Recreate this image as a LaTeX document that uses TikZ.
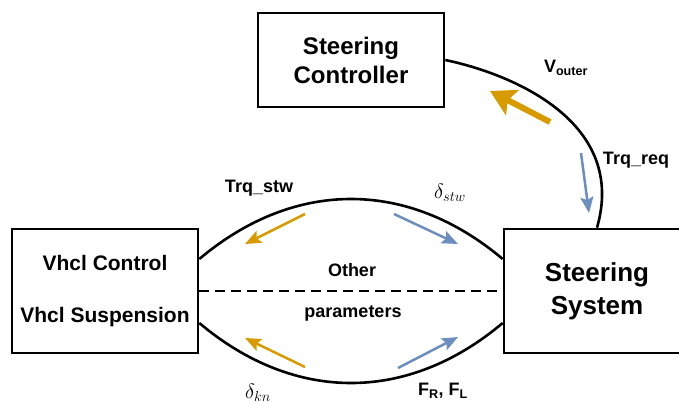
\documentclass[tikz,border=0pt]{standalone}
\usepackage{fontspec}
\setmainfont{Liberation Sans}
\usetikzlibrary{positioning,arrows.meta}
\definecolor{trqorange}{HTML}{D79B00}
\definecolor{sigblue}{HTML}{6C8EBF}

\begin{document}
\begin{tikzpicture}[x=1pt,y=-1pt,line width=2.6pt]
	\tikzstyle{block}=[draw,line width=2.6pt,minimum width=186pt,align=center]
	\tikzstyle{lbl}=[font=\bfseries\fontsize{18}{22}\selectfont,inner sep=0pt]
	\tikzstyle{sym}=[font=\fontsize{20}{24}\selectfont,inner sep=0pt]
	\tikzstyle{thinarrow}=[line width=2.5pt,-{Stealth[length=16pt,width=13pt,inset=3pt]}]
	\tikzstyle{bigarrow}=[line width=6pt,-{Stealth[length=25pt,width=28pt,inset=5pt]}]
	\useasboundingbox (0,0) rectangle (679,401);
	\clip (0,0) rectangle (679,401);
		% blocks
		\node[block,minimum height=94pt,font=\bfseries\fontsize{24}{29}\selectfont] (ctrl) at (351,60) {Steering\\Controller};
		\node[block,minimum height=124pt,font=\bfseries\fontsize{21}{52}\selectfont] (vhcl) at (105,291) {Vhcl Control\\Vhcl Suspension};
		\node[block,minimum height=124pt,font=\bfseries\fontsize{26}{33}\selectfont] (sys) at (597,291) {Steering\\System};
		% links between the blocks
		\draw ([yshift=32pt]vhcl.east) .. controls +(95,-80) and +(-95,-80) .. ([yshift=32pt]sys.west);
		\draw ([yshift=-32pt]vhcl.east) .. controls +(95,80) and +(-95,80) .. ([yshift=-32pt]sys.west);
		\draw[dash pattern=on 10pt off 6pt] (vhcl.east) -- (sys.west);
		\draw (ctrl.east) .. controls +(71,15) and +(30,-104) .. (sys.north);
		% signal labels
		\node[lbl] (trqstw) at (259,188) {Trq\_stw};
		\node[sym] (dstw) at (450,193) {$\delta_{stw}$};
		\node[lbl] (other) at (352,270) {Other};
		\node[lbl] (param) at (353,313) {parameters};
		\node[sym] (dkn) at (258,393) {$\delta_{kn}$};
		\node[lbl] (forces) at (443,391) {F\textsubscript{R}, F\textsubscript{L}};
		\node[lbl] (vout) at (566,68) {V\textsubscript{outer}};
		\node[lbl] (trqreq) at (636,160) {Trq\_req};
		% flow directions
		\coordinate (a1) at (305,214); \coordinate (a2) at (245,244);
		\coordinate (b1) at (394,214); \coordinate (b2) at (458,244);
		\coordinate (c1) at (305,367); \coordinate (c2) at (245,338);
		\coordinate (d1) at (398,368); \coordinate (d2) at (458,337);
		\coordinate (e1) at (550,122); \coordinate (e2) at (490,91);
		\coordinate (f1) at (581,153); \coordinate (f2) at (589,213);
			\draw[thinarrow,trqorange] (a1) -- (a2);
			\draw[thinarrow,sigblue] (b1) -- (b2);
			\draw[thinarrow,trqorange] (c1) -- (c2);
			\draw[thinarrow,sigblue] (d1) -- (d2);
			\draw[bigarrow,trqorange] (e1) -- (e2);
			\draw[thinarrow,sigblue] (f1) -- (f2);
\end{tikzpicture}
\end{document}
